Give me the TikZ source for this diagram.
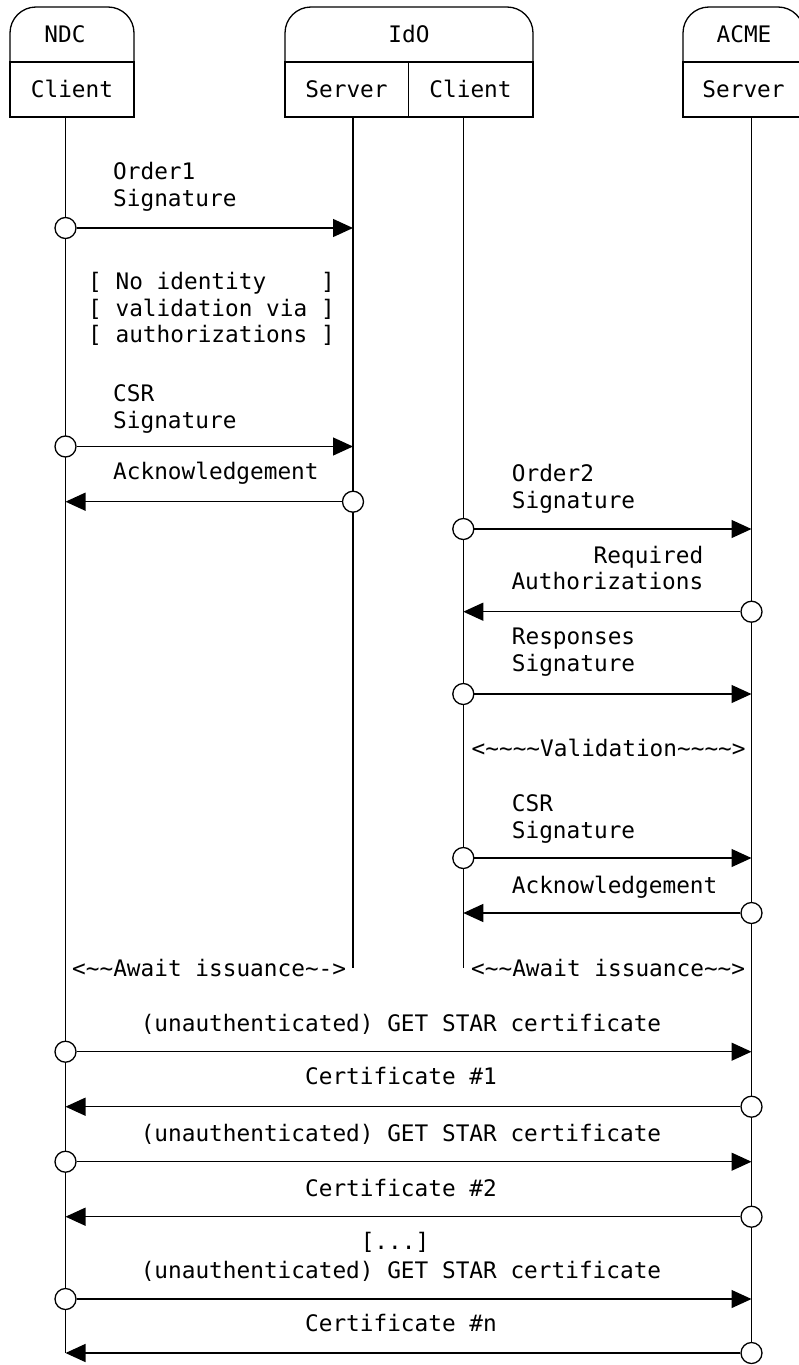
\documentclass[tikz,border=0pt]{standalone}
\usepackage{fontspec}
\setmainfont{DejaVu Sans Mono}
\usetikzlibrary{arrows.meta}
\tikzset{
  lbl/.style={inner sep=0pt, anchor=base west, font=\fontsize{22.75}{27}\selectfont},
  lblc/.style={lbl, anchor=base},
  lblr/.style={lbl, anchor=base east},
  dot/.style={circle, draw, fill=white, minimum size=21pt, inner sep=0pt, line width=1.3pt},
  msg/.style={line width=1.3pt, -{Triangle[length=20pt,width=18pt]}},
  life/.style={line width=1.3pt},
  hdr/.style={line width=1.3pt},
}
\begin{document}
\begin{tikzpicture}[x=1pt,y=-1pt]
\useasboundingbox (0,0) rectangle (799,1365);
% header boxes
\draw[hdr, rounded corners=26pt] (10,62) -- (10,7) -- (134,7) -- (134,62);
\draw[hdr] (10,62) rectangle (134,117);
\draw[hdr, rounded corners=26pt] (285,62) -- (285,7) -- (533,7) -- (533,62);
\draw[hdr] (285,62) rectangle (533,117);
\draw[hdr] (408.5,62) -- (408.5,117);
\draw[hdr, rounded corners=26pt] (683,62) -- (683,7) -- (804,7) -- (804,62);
\draw[hdr] (683,62) rectangle (804,117);
\node[lblc] (hNDC) at (65,42.5) {NDC};
\node[lblc] (hNDCc) at (72,97) {Client};
\node[lblc] (hIdO) at (409,42.5) {IdO};
\node[lblc] (hIdOs) at (346.5,97) {Server};
\node[lblc] (hIdOc) at (470.5,97) {Client};
\node[lblc] (hACME) at (744,42.5) {ACME};
\node[lblc] (hACMEs) at (743.5,97) {Server};
% lifelines
\coordinate (Lat) at (65.5,117);  \coordinate (Lab) at (65.5,1353);
\coordinate (Lbt) at (353,117);   \coordinate (Lbb) at (353,968);
\coordinate (Lct) at (463.3,117); \coordinate (Lcb) at (463.3,968);
\coordinate (Ldt) at (751.5,117); \coordinate (Ldb) at (751.5,1353);
\draw[life] (Lat) -- (Lab);
\draw[life] (Lbt) -- (Lbb);
\draw[life] (Lct) -- (Lcb);
\draw[life] (Ldt) -- (Ldb);
% messages
\node[dot] (d1) at (65.5,228) {};     \coordinate (r1) at (353,228);
\node[dot] (d2) at (65.5,446.5) {};   \coordinate (r2) at (353,446.5);
\node[dot] (d3) at (353,501.7) {};    \coordinate (r3) at (65.5,501.7);
\node[dot] (d4) at (463.3,529) {};    \coordinate (r4) at (751.5,529);
\node[dot] (d5) at (751.5,611.7) {};  \coordinate (r5) at (463.3,611.7);
\node[dot] (d6) at (463.3,694) {};    \coordinate (r6) at (751.5,694);
\node[dot] (d7) at (463.3,858) {};    \coordinate (r7) at (751.5,858);
\node[dot] (d8) at (751.5,913) {};    \coordinate (r8) at (463.3,913);
\node[dot] (d9) at (65.5,1051.7) {};  \coordinate (r9) at (751.5,1051.7);
\node[dot] (d10) at (751.5,1106.7) {}; \coordinate (r10) at (65.5,1106.7);
\node[dot] (d11) at (65.5,1161.7) {}; \coordinate (r11) at (751.5,1161.7);
\node[dot] (d12) at (751.5,1216.7) {}; \coordinate (r12) at (65.5,1216.7);
\node[dot] (d13) at (65.5,1299) {};   \coordinate (r13) at (751.5,1299);
\node[dot] (d14) at (751.5,1353) {};  \coordinate (r14) at (65.5,1353);
\foreach \i in {1,...,14} {\draw[msg] (d\i) -- (r\i);}
% labels
\node[lbl] (t1a) at (113,179) {Order1};
\node[lbl] (t1b) at (113,206) {Signature};
\node[lbl] (n1) at (88,289) {[ No identity\ \ \ \ ]};
\node[lbl] (n2) at (88,316) {[ validation via ]};
\node[lbl] (n3) at (88,342) {[ authorizations ]};
\node[lbl] (t2a) at (113,401) {CSR};
\node[lbl] (t2b) at (113,428) {Signature};
\node[lbl] (t3) at (113,479) {Acknowledgement};
\node[lbl] (t4a) at (511.7,481) {Order2};
\node[lbl] (t4b) at (511.7,508) {Signature};
\node[lblr] (t5a) at (703.5,563) {Required};
\node[lblr] (t5b) at (703.5,589) {Authorizations};
\node[lbl] (t6a) at (511.7,644) {Responses};
\node[lbl] (t6b) at (511.7,671) {Signature};
\node[lbl] (tv) at (471.5,756) {<\char`\~\char`\~\char`\~\char`\~Validation\char`\~\char`\~\char`\~\char`\~>};
\node[lbl] (t7a) at (511.7,811) {CSR};
\node[lbl] (t7b) at (511.7,838) {Signature};
\node[lbl] (t8) at (511.7,893) {Acknowledgement};
\node[lbl] (aw1) at (72,976) {<\char`\~\char`\~Await issuance\char`\~->};
\node[lbl] (aw2) at (471,976) {<\char`\~\char`\~Await issuance\char`\~\char`\~>};
\node[lblc] (t9) at (401,1031) {(unauthenticated) GET STAR certificate};
\node[lblc] (t10) at (401,1084) {Certificate \#1};
\node[lblc] (t11) at (401,1141) {(unauthenticated) GET STAR certificate};
\node[lblc] (t12) at (401,1196) {Certificate \#2};
\node[lblc] (tdots) at (395,1249) {[...]};
\node[lblc] (t13) at (401,1278) {(unauthenticated) GET STAR certificate};
\node[lblc] (t14) at (401,1331) {Certificate \#n};
\end{tikzpicture}
\end{document}
